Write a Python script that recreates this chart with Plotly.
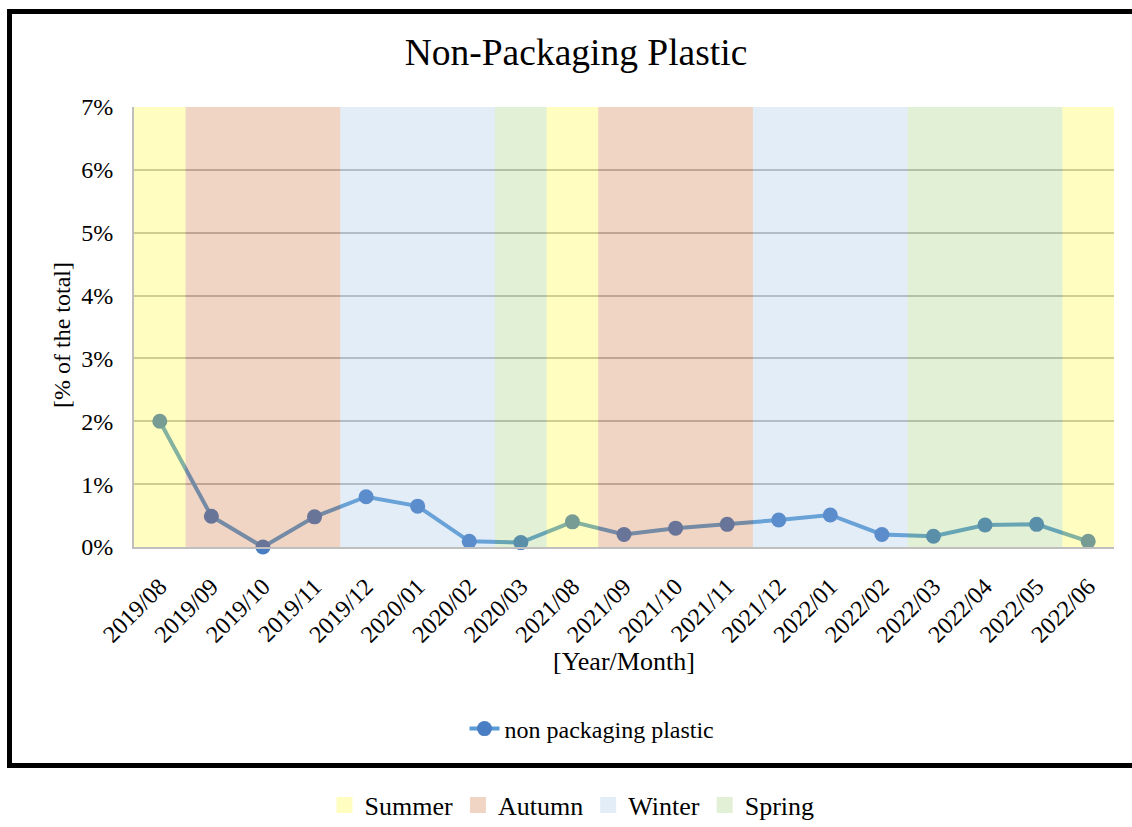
import plotly.graph_objects as go

# ---- data -------------------------------------------------------------
months = ["2019/08", "2019/09", "2019/10", "2019/11", "2019/12", "2020/01",
          "2020/02", "2020/03", "2021/08", "2021/09", "2021/10", "2021/11",
          "2021/12", "2022/01", "2022/02", "2022/03", "2022/04", "2022/05",
          "2022/06"]
share_pct = [2.00, 0.49, 0.00, 0.48, 0.80, 0.65, 0.09, 0.07, 0.40, 0.20,
             0.30, 0.36, 0.43, 0.51, 0.20, 0.17, 0.35, 0.36, 0.09]
season_of_month = ["Summer", "Autumn", "Autumn", "Autumn", "Winter", "Winter",
                   "Winter", "Spring", "Summer", "Autumn", "Autumn", "Autumn",
                   "Winter", "Winter", "Winter", "Spring", "Spring", "Spring",
                   "Summer"]
seasons = ["Summer", "Autumn", "Winter", "Spring"]
y_ticks = [0, 1, 2, 3, 4, 5, 6, 7]
y_tick_text = ["0%", "1%", "2%", "3%", "4%", "5%", "6%", "7%"]

# ---- styling ----------------------------------------------------------
FONT = "Liberation Serif, Times New Roman, Times, DejaVu Serif, serif"
season_rgba = {
    "Summer": "rgba(255,247,5,0.25)",
    "Autumn": "rgba(195,87,19,0.25)",
    "Winter": "rgba(143,183,223,0.25)",
    "Spring": "rgba(139,195,87,0.25)",
}
LINE_COLOR = "#5B9BD5"
MARKER_COLOR = "#4A7EC4"

W, H = 1132, 827
L, R, T, B = 134, 18, 107, 280
PW, PH = W - L - R, H - T - B


def px_x(x):
    """pixel x -> paper x"""
    return (x - L) / PW


def px_y(y):
    """pixel y -> paper y"""
    return (H - B - y) / PH


fig = go.Figure()

fig.add_trace(go.Scatter(
    x=months, y=share_pct, name="non packaging plastic",
    mode="lines+markers",
    line=dict(color=LINE_COLOR, width=4),
    marker=dict(color=MARKER_COLOR, size=15),
    cliponaxis=False, legend="legend",
))

# season key entries
for s in seasons:
    fig.add_trace(go.Scatter(
        x=[None], y=[None], name=s, mode="markers",
        marker=dict(symbol="square", size=18, color=season_rgba[s]),
        legend="legend2",
    ))

# season bands laid over the plot area (merge runs of equal season)
shapes = []
start = 0
for i in range(1, len(months) + 1):
    if i == len(months) or season_of_month[i] != season_of_month[start]:
        shapes.append(dict(
            type="rect", xref="x", yref="paper",
            x0=start - 0.5, x1=i - 0.5, y0=0, y1=1,
            fillcolor=season_rgba[season_of_month[start]],
            line=dict(width=0), layer="above",
        ))
        start = i

# outer frame
shapes.append(dict(
    type="rect", xref="paper", yref="paper",
    x0=px_x(9.5), x1=px_x(1145), y0=px_y(765.5), y1=px_y(11.5),
    line=dict(color="black", width=5), fillcolor="rgba(0,0,0,0)",
    layer="below",
))

fig.update_layout(
    width=W, height=H,
    margin=dict(l=L, r=R, t=T, b=B, autoexpand=False),
    paper_bgcolor="white", plot_bgcolor="white",
    font=dict(family=FONT, color="black", size=24),
    title=dict(text="Non-Packaging Plastic", x=576 / W, xref="container",
               xanchor="center", y=1 - 52 / H, yref="container",
               yanchor="middle", font=dict(size=37.5, family=FONT)),
    shapes=shapes,
    showlegend=True,
    legend=dict(orientation="h", x=px_x(592), xanchor="center",
                y=px_y(729), yanchor="middle",
                font=dict(size=24, family=FONT), bgcolor="rgba(0,0,0,0)"),
    legend2=dict(orientation="h", x=px_x(572), xanchor="center",
                 y=px_y(805), yanchor="middle",
                 font=dict(size=26, family=FONT), bgcolor="rgba(0,0,0,0)"),
    annotations=[
        dict(text="[% of the total]", xref="paper", yref="paper",
             x=px_x(62), y=px_y(335), textangle=-90, showarrow=False,
             font=dict(size=24, family=FONT), xanchor="center",
             yanchor="middle"),
        dict(text="[Year/Month]", xref="paper", yref="paper",
             x=px_x(624), y=px_y(661), showarrow=False,
             font=dict(size=26, family=FONT), xanchor="center",
             yanchor="middle"),
    ],
)

fig.update_xaxes(
    type="category", categoryorder="array", categoryarray=months,
    range=[-0.5, len(months) - 0.5],
    tickangle=-45, ticks="", showgrid=False,
    showline=True, linecolor="#BFBFBF", linewidth=2,
    tickfont=dict(size=24, family=FONT), ticklabelstandoff=14,
)
fig.update_yaxes(
    range=[0, 7], tickvals=y_ticks, ticktext=y_tick_text, ticks="",
    showgrid=True, gridcolor="#BFBFBF", gridwidth=2,
    showline=True, linecolor="#BFBFBF", linewidth=2,
    zeroline=False,
    tickfont=dict(size=24, family=FONT), ticklabelstandoff=14,
)

fig.write_html("out.html")
